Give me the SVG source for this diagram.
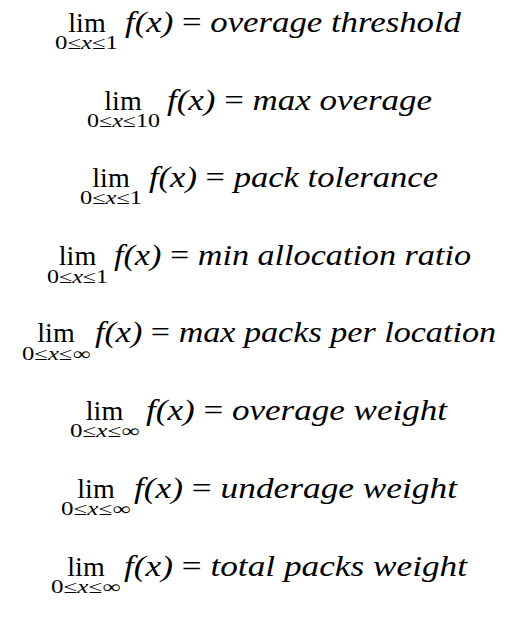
<svg xmlns="http://www.w3.org/2000/svg" width="508" height="620" viewBox="0 0 508 620">
<style>
text{font-family:"Liberation Serif","DejaVu Serif",serif;fill:#000}
.lim{font-size:28px;text-anchor:middle}
.sub{font-size:18px;text-anchor:middle}
.eq{font-size:29px;font-style:italic}
.up{font-style:normal}
.it{font-style:italic}
</style>
<rect width="508" height="620" fill="#fff"/>
<g id="f1">
<text class="lim" x="87" y="32">lim</text>
<text class="sub" x="86.5" y="49" textLength="63" lengthAdjust="spacingAndGlyphs">0≤<tspan class="it">x</tspan>≤1</text>
<text class="eq" x="125" y="32" textLength="336" lengthAdjust="spacingAndGlyphs">f(x) <tspan class="up">=</tspan> overage threshold</text>
</g>
<g id="f2">
<text class="lim" x="123" y="110">lim</text>
<text class="sub" x="123.5" y="127" textLength="73" lengthAdjust="spacingAndGlyphs">0≤<tspan class="it">x</tspan>≤10</text>
<text class="eq" x="167" y="110" textLength="265" lengthAdjust="spacingAndGlyphs">f(x) <tspan class="up">=</tspan> max overage</text>
</g>
<g id="f3">
<text class="lim" x="111" y="187">lim</text>
<text class="sub" x="111" y="204" textLength="62" lengthAdjust="spacingAndGlyphs">0≤<tspan class="it">x</tspan>≤1</text>
<text class="eq" x="149" y="187" textLength="289" lengthAdjust="spacingAndGlyphs">f(x) <tspan class="up">=</tspan> pack tolerance</text>
</g>
<g id="f4">
<text class="lim" x="77.5" y="265">lim</text>
<text class="sub" x="77.5" y="283" textLength="61" lengthAdjust="spacingAndGlyphs">0≤<tspan class="it">x</tspan>≤1</text>
<text class="eq" x="114" y="265" textLength="357" lengthAdjust="spacingAndGlyphs">f(x) <tspan class="up">=</tspan> min allocation ratio</text>
</g>
<g id="f5">
<text class="lim" x="56" y="342">lim</text>
<text class="sub" x="56" y="360" textLength="68" lengthAdjust="spacingAndGlyphs">0≤<tspan class="it">x</tspan>≤∞</text>
<text class="eq" x="95" y="342" textLength="401" lengthAdjust="spacingAndGlyphs">f(x) <tspan class="up">=</tspan> max packs per location</text>
</g>
<g id="f6">
<text class="lim" x="104.5" y="420">lim</text>
<text class="sub" x="104.5" y="437" textLength="69" lengthAdjust="spacingAndGlyphs">0≤<tspan class="it">x</tspan>≤∞</text>
<text class="eq" x="146" y="420" textLength="301" lengthAdjust="spacingAndGlyphs">f(x) <tspan class="up">=</tspan> overage weight</text>
</g>
<g id="f7">
<text class="lim" x="96" y="498">lim</text>
<text class="sub" x="95.5" y="515" textLength="69" lengthAdjust="spacingAndGlyphs">0≤<tspan class="it">x</tspan>≤∞</text>
<text class="eq" x="134" y="498" textLength="323" lengthAdjust="spacingAndGlyphs">f(x) <tspan class="up">=</tspan> underage weight</text>
</g>
<g id="f8">
<text class="lim" x="86" y="576">lim</text>
<text class="sub" x="85.5" y="593" textLength="69" lengthAdjust="spacingAndGlyphs">0≤<tspan class="it">x</tspan>≤∞</text>
<text class="eq" x="124" y="576" textLength="343" lengthAdjust="spacingAndGlyphs">f(x) <tspan class="up">=</tspan> total packs weight</text>
</g>
</svg>
